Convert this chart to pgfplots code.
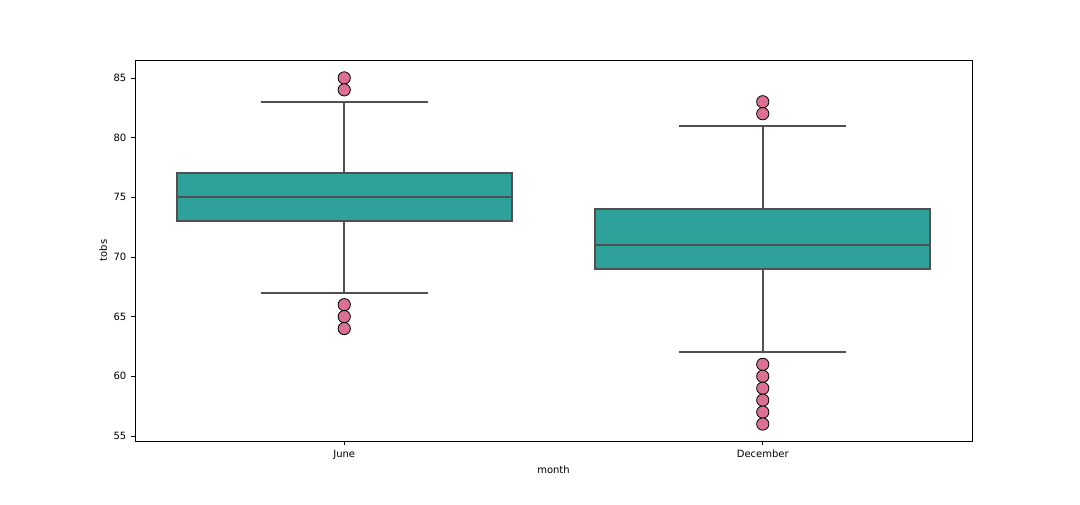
\documentclass[border=0pt]{standalone}
\usepackage{fontspec}
\setmainfont{DejaVu Sans}
\usepackage{pgfplots}
\pgfplotsset{compat=1.18}
\definecolor{boxfill}{HTML}{2FA19B}
\definecolor{edge}{HTML}{505050}
\definecolor{outl}{HTML}{DB7093}
\begin{document}
\begin{tikzpicture}[x=1pt,y=1pt]
\useasboundingbox (0,0) rectangle (810,378);
\begin{axis}[
  at={(101.25pt,47.25pt)}, anchor=south west,
  scale only axis, width=627.75pt, height=285.75pt,
  xmin=-0.5, xmax=1.5, ymin=54.58, ymax=86.5,
  xtick={0,1}, xticklabels={June,December},
  ytick={55,60,65,70,75,80,85},
  xtick pos=left, ytick pos=left,
  tick align=outside, tick style={black, line width=0.6pt}, major tick length=3pt,
  axis line style={black, line width=0.6pt},
  tick label style={font=\fontsize{7.5}{9}\selectfont},
  label style={font=\fontsize{7.5}{9}\selectfont},
  /pgf/number format/assume math mode=true,
  xlabel={month}, ylabel={tobs},
  xlabel style={yshift=2pt}, ylabel style={yshift=-2pt},
  clip=false,
  bx/.style={draw=edge, line width=1.5pt, mark=none},
]
% June: whiskers 67/83, quartiles 73/77, median 75
\addplot[bx] coordinates {(0,73) (0,67)};
\addplot[bx] coordinates {(0,77) (0,83)};
\addplot[bx] coordinates {(-0.2,67) (0.2,67)};
\addplot[bx] coordinates {(-0.2,83) (0.2,83)};
\addplot[bx, fill=boxfill] coordinates {(-0.4,73) (0.4,73) (0.4,77) (-0.4,77)} -- cycle;
\addplot[bx] coordinates {(-0.4,75) (0.4,75)};
% December: whiskers 62/81, quartiles 69/74, median 71
\addplot[bx] coordinates {(1,69) (1,62)};
\addplot[bx] coordinates {(1,74) (1,81)};
\addplot[bx] coordinates {(0.8,62) (1.2,62)};
\addplot[bx] coordinates {(0.8,81) (1.2,81)};
\addplot[bx, fill=boxfill] coordinates {(0.6,69) (1.4,69) (1.4,74) (0.6,74)} -- cycle;
\addplot[bx] coordinates {(0.6,71) (1.4,71)};
\addplot[only marks, mark=*, mark size=4.6pt, mark options={fill=outl, draw=black, line width=0.6pt}] table {
x y
0 85
0 84
0 66
0 65
0 64
1 83
1 82
1 61
1 60
1 59
1 58
1 57
1 56
};
\end{axis}
\end{tikzpicture}
\end{document}
